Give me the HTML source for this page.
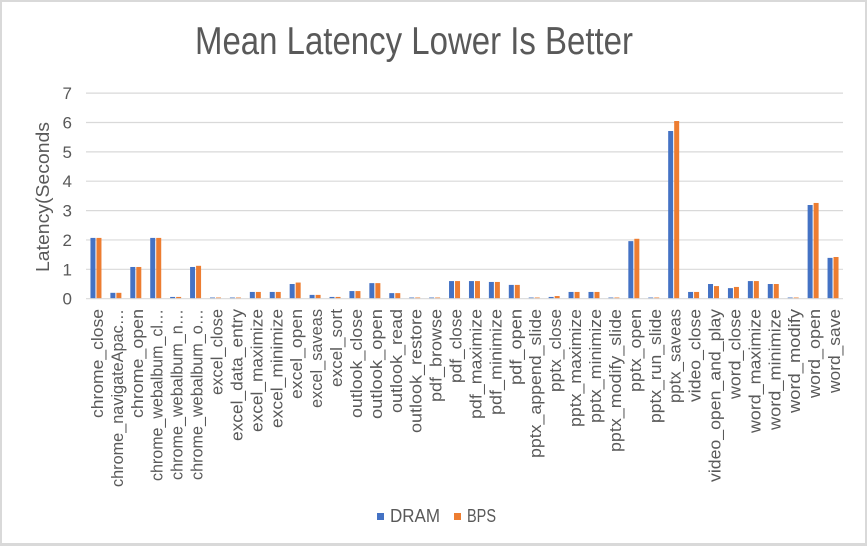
<!DOCTYPE html>
<html><head><meta charset="utf-8"><style>
html,body{margin:0;padding:0;background:#fff;}
body{width:867px;height:546px;overflow:hidden;}
svg text{font-family:"Liberation Sans",sans-serif;fill:#595959;}
</style></head><body>
<svg width="867" height="546" viewBox="0 0 867 546" xmlns="http://www.w3.org/2000/svg">
<rect x="0" y="0" width="867" height="546" fill="#d9d9d9"/>
<rect x="2" y="2" width="863" height="541" fill="#ffffff"/>
<text x="195" y="54" font-size="39" textLength="438" lengthAdjust="spacingAndGlyphs">Mean Latency Lower Is Better</text>
<g stroke="#d9d9d9" stroke-width="1.2">
<line x1="86" y1="93.1" x2="843" y2="93.1"/>
<line x1="86" y1="122.5" x2="843" y2="122.5"/>
<line x1="86" y1="151.85" x2="843" y2="151.85"/>
<line x1="86" y1="181.2" x2="843" y2="181.2"/>
<line x1="86" y1="210.6" x2="843" y2="210.6"/>
<line x1="86" y1="239.96" x2="843" y2="239.96"/>
<line x1="86" y1="269.3" x2="843" y2="269.3"/>
</g>
<g font-size="17" text-anchor="end">
<text x="72" y="99">7</text>
<text x="72" y="128.5">6</text>
<text x="72" y="157.9">5</text>
<text x="72" y="187.2">4</text>
<text x="72" y="216.6">3</text>
<text x="72" y="246">2</text>
<text x="72" y="275.3">1</text>
<text x="72" y="304.7">0</text>
</g>
<text transform="translate(49,272) rotate(-90)" font-size="18" textLength="150" lengthAdjust="spacingAndGlyphs">Latency(Seconds</text>
<g transform="translate(0,298.7) scale(1,-29.37)">
<g fill="#4472C4">
<rect x="90.46" y="0" width="5" height="2.07"/>
<rect x="110.38" y="0" width="5" height="0.20"/>
<rect x="130.30" y="0" width="5" height="1.08"/>
<rect x="150.22" y="0" width="5" height="2.07"/>
<rect x="170.14" y="0" width="5" height="0.06"/>
<rect x="190.07" y="0" width="5" height="1.08"/>
<rect x="209.99" y="0" width="5" height="0.04"/>
<rect x="229.91" y="0" width="5" height="0.04"/>
<rect x="249.83" y="0" width="5" height="0.23"/>
<rect x="269.75" y="0" width="5" height="0.23"/>
<rect x="289.67" y="0" width="5" height="0.50"/>
<rect x="309.59" y="0" width="5" height="0.13"/>
<rect x="329.51" y="0" width="5" height="0.06"/>
<rect x="349.44" y="0" width="5" height="0.26"/>
<rect x="369.36" y="0" width="5" height="0.53"/>
<rect x="389.28" y="0" width="5" height="0.19"/>
<rect x="409.20" y="0" width="5" height="0.04"/>
<rect x="429.12" y="0" width="5" height="0.04"/>
<rect x="449.04" y="0" width="5" height="0.60"/>
<rect x="468.96" y="0" width="5" height="0.60"/>
<rect x="488.88" y="0" width="5" height="0.57"/>
<rect x="508.80" y="0" width="5" height="0.47"/>
<rect x="528.73" y="0" width="5" height="0.04"/>
<rect x="548.65" y="0" width="5" height="0.06"/>
<rect x="568.57" y="0" width="5" height="0.23"/>
<rect x="588.49" y="0" width="5" height="0.23"/>
<rect x="608.41" y="0" width="5" height="0.04"/>
<rect x="628.33" y="0" width="5" height="1.96"/>
<rect x="648.25" y="0" width="5" height="0.04"/>
<rect x="668.17" y="0" width="5" height="5.71"/>
<rect x="688.09" y="0" width="5" height="0.23"/>
<rect x="708.02" y="0" width="5" height="0.50"/>
<rect x="727.94" y="0" width="5" height="0.36"/>
<rect x="747.86" y="0" width="5" height="0.60"/>
<rect x="767.78" y="0" width="5" height="0.50"/>
<rect x="787.70" y="0" width="5" height="0.04"/>
<rect x="807.62" y="0" width="5" height="3.19"/>
<rect x="827.54" y="0" width="5" height="1.39"/>
</g>
<g fill="#ED7D31">
<rect x="96.46" y="0" width="5" height="2.07"/>
<rect x="116.38" y="0" width="5" height="0.20"/>
<rect x="136.30" y="0" width="5" height="1.08"/>
<rect x="156.22" y="0" width="5" height="2.07"/>
<rect x="176.14" y="0" width="5" height="0.06"/>
<rect x="196.07" y="0" width="5" height="1.12"/>
<rect x="215.99" y="0" width="5" height="0.04"/>
<rect x="235.91" y="0" width="5" height="0.04"/>
<rect x="255.83" y="0" width="5" height="0.23"/>
<rect x="275.75" y="0" width="5" height="0.23"/>
<rect x="295.67" y="0" width="5" height="0.55"/>
<rect x="315.59" y="0" width="5" height="0.13"/>
<rect x="335.51" y="0" width="5" height="0.06"/>
<rect x="355.44" y="0" width="5" height="0.26"/>
<rect x="375.36" y="0" width="5" height="0.53"/>
<rect x="395.28" y="0" width="5" height="0.19"/>
<rect x="415.20" y="0" width="5" height="0.04"/>
<rect x="435.12" y="0" width="5" height="0.04"/>
<rect x="455.04" y="0" width="5" height="0.60"/>
<rect x="474.96" y="0" width="5" height="0.60"/>
<rect x="494.88" y="0" width="5" height="0.57"/>
<rect x="514.80" y="0" width="5" height="0.47"/>
<rect x="534.73" y="0" width="5" height="0.04"/>
<rect x="554.65" y="0" width="5" height="0.09"/>
<rect x="574.57" y="0" width="5" height="0.23"/>
<rect x="594.49" y="0" width="5" height="0.23"/>
<rect x="614.41" y="0" width="5" height="0.04"/>
<rect x="634.33" y="0" width="5" height="2.04"/>
<rect x="654.25" y="0" width="5" height="0.04"/>
<rect x="674.17" y="0" width="5" height="6.05"/>
<rect x="694.09" y="0" width="5" height="0.23"/>
<rect x="714.02" y="0" width="5" height="0.43"/>
<rect x="733.94" y="0" width="5" height="0.40"/>
<rect x="753.86" y="0" width="5" height="0.60"/>
<rect x="773.78" y="0" width="5" height="0.50"/>
<rect x="793.70" y="0" width="5" height="0.04"/>
<rect x="813.62" y="0" width="5" height="3.26"/>
<rect x="833.54" y="0" width="5" height="1.42"/>
</g>
</g>
<line x1="86" y1="298.7" x2="843" y2="298.7" stroke="#d9d9d9" stroke-width="1.2"/>
<g font-size="17" text-anchor="end">
<text transform="translate(102.96,309) rotate(-90)" textLength="109" lengthAdjust="spacingAndGlyphs">chrome_close</text>
<text transform="translate(122.88,309) rotate(-90)" textLength="178" lengthAdjust="spacingAndGlyphs">chrome_navigateApac…</text>
<text transform="translate(142.80,309) rotate(-90)" textLength="109" lengthAdjust="spacingAndGlyphs">chrome_open</text>
<text transform="translate(162.72,309) rotate(-90)" textLength="172" lengthAdjust="spacingAndGlyphs">chrome_webalbum_cl…</text>
<text transform="translate(182.64,309) rotate(-90)" textLength="171" lengthAdjust="spacingAndGlyphs">chrome_webalbum_n…</text>
<text transform="translate(202.57,309) rotate(-90)" textLength="171" lengthAdjust="spacingAndGlyphs">chrome_webalbum_o…</text>
<text transform="translate(222.49,309) rotate(-90)" textLength="86" lengthAdjust="spacingAndGlyphs">excel_close</text>
<text transform="translate(242.41,309) rotate(-90)" textLength="132" lengthAdjust="spacingAndGlyphs">excel_data_entry</text>
<text transform="translate(262.33,309) rotate(-90)" textLength="123" lengthAdjust="spacingAndGlyphs">excel_maximize</text>
<text transform="translate(282.25,309) rotate(-90)" textLength="119" lengthAdjust="spacingAndGlyphs">excel_minimize</text>
<text transform="translate(302.17,309) rotate(-90)" textLength="90" lengthAdjust="spacingAndGlyphs">excel_open</text>
<text transform="translate(322.09,309) rotate(-90)" textLength="99" lengthAdjust="spacingAndGlyphs">excel_saveas</text>
<text transform="translate(342.01,309) rotate(-90)" textLength="78" lengthAdjust="spacingAndGlyphs">excel_sort</text>
<text transform="translate(361.94,309) rotate(-90)" textLength="109" lengthAdjust="spacingAndGlyphs">outlook_close</text>
<text transform="translate(381.86,309) rotate(-90)" textLength="110" lengthAdjust="spacingAndGlyphs">outlook_open</text>
<text transform="translate(401.78,309) rotate(-90)" textLength="104" lengthAdjust="spacingAndGlyphs">outlook_read</text>
<text transform="translate(421.70,309) rotate(-90)" textLength="124" lengthAdjust="spacingAndGlyphs">outlook_restore</text>
<text transform="translate(441.62,309) rotate(-90)" textLength="93" lengthAdjust="spacingAndGlyphs">pdf_browse</text>
<text transform="translate(461.54,309) rotate(-90)" textLength="74" lengthAdjust="spacingAndGlyphs">pdf_close</text>
<text transform="translate(481.46,309) rotate(-90)" textLength="110" lengthAdjust="spacingAndGlyphs">pdf_maximize</text>
<text transform="translate(501.38,309) rotate(-90)" textLength="106" lengthAdjust="spacingAndGlyphs">pdf_minimize</text>
<text transform="translate(521.30,309) rotate(-90)" textLength="76" lengthAdjust="spacingAndGlyphs">pdf_open</text>
<text transform="translate(541.23,309) rotate(-90)" textLength="149" lengthAdjust="spacingAndGlyphs">pptx_append_slide</text>
<text transform="translate(561.15,309) rotate(-90)" textLength="83" lengthAdjust="spacingAndGlyphs">pptx_close</text>
<text transform="translate(581.07,309) rotate(-90)" textLength="118" lengthAdjust="spacingAndGlyphs">pptx_maximize</text>
<text transform="translate(600.99,309) rotate(-90)" textLength="114" lengthAdjust="spacingAndGlyphs">pptx_minimize</text>
<text transform="translate(620.91,309) rotate(-90)" textLength="143" lengthAdjust="spacingAndGlyphs">pptx_modify_slide</text>
<text transform="translate(640.83,309) rotate(-90)" textLength="83" lengthAdjust="spacingAndGlyphs">pptx_open</text>
<text transform="translate(660.75,309) rotate(-90)" textLength="114" lengthAdjust="spacingAndGlyphs">pptx_run_slide</text>
<text transform="translate(680.67,309) rotate(-90)" textLength="94" lengthAdjust="spacingAndGlyphs">pptx_saveas</text>
<text transform="translate(700.59,309) rotate(-90)" textLength="93" lengthAdjust="spacingAndGlyphs">video_close</text>
<text transform="translate(720.52,309) rotate(-90)" textLength="173" lengthAdjust="spacingAndGlyphs">video_open_and_play</text>
<text transform="translate(740.44,309) rotate(-90)" textLength="90" lengthAdjust="spacingAndGlyphs">word_close</text>
<text transform="translate(760.36,309) rotate(-90)" textLength="124" lengthAdjust="spacingAndGlyphs">word_maximize</text>
<text transform="translate(780.28,309) rotate(-90)" textLength="121" lengthAdjust="spacingAndGlyphs">word_minimize</text>
<text transform="translate(800.20,309) rotate(-90)" textLength="104" lengthAdjust="spacingAndGlyphs">word_modify</text>
<text transform="translate(820.12,309) rotate(-90)" textLength="89" lengthAdjust="spacingAndGlyphs">word_open</text>
<text transform="translate(840.04,309) rotate(-90)" textLength="84" lengthAdjust="spacingAndGlyphs">word_save</text>
</g>
<rect x="377" y="513" width="7" height="7" fill="#4472C4"/>
<text x="390" y="522" font-size="18" textLength="50" lengthAdjust="spacingAndGlyphs">DRAM</text>
<rect x="454" y="513" width="7" height="7" fill="#ED7D31"/>
<text x="467" y="522" font-size="18" textLength="29" lengthAdjust="spacingAndGlyphs">BPS</text>
</svg>
</body></html>
